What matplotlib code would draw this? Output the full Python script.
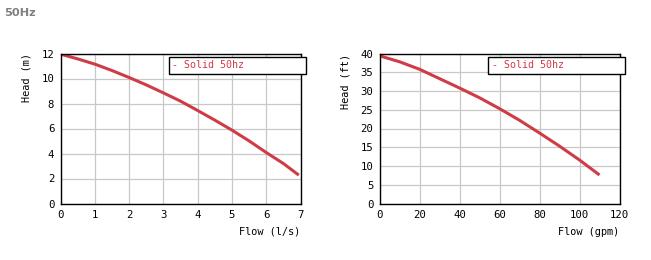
import matplotlib
matplotlib.use("Agg")
import matplotlib.pyplot as plt
from matplotlib.patches import Rectangle

title = "50Hz"
series_name = "Solid 50hz"

flow_ls = [0, 0.5, 1, 1.5, 2, 2.5, 3, 3.5, 4, 4.5, 5, 5.5, 6, 6.5, 6.95]
head_m = [11.95, 11.57, 11.15, 10.64, 10.08, 9.49, 8.85, 8.19, 7.44,
          6.67, 5.87, 5.01, 4.08, 3.20, 2.27]

flow_gpm = [0, 10, 20, 30, 40, 50, 60, 70, 80, 90, 100, 110]
head_ft = [39.4, 37.8, 35.8, 33.3, 30.8, 28.2, 25.3, 22.2, 18.8, 15.3, 11.6, 7.6]

line_color = "#cf3c47"
mono = "DejaVu Sans Mono"
fs = 7.4

fig = plt.figure(figsize=(6.51, 2.60), dpi=100)
W, H = 651, 260

def make_axes(x0, x1, y0, y1):
    return fig.add_axes([x0 / W, 1 - y1 / H, (x1 - x0) / W, (y1 - y0) / H])

def style(ax, xlim, ylim, xticks, yticks, xlabel, ylabel):
    ax.set_xlim(*xlim)
    ax.set_ylim(*ylim)
    ax.set_xticks(xticks)
    ax.set_yticks(yticks)
    ax.grid(True, color="#c8c8c8", linewidth=0.9)
    ax.set_axisbelow(True)
    ax.tick_params(length=0, labelsize=fs + 0.3, pad=4.5)
    for lbl in ax.get_xticklabels() + ax.get_yticklabels():
        lbl.set_family(mono)
    for s in ax.spines.values():
        s.set_linewidth(1.0)
        s.set_color("black")
    ax.set_xlabel(xlabel, family=mono, fontsize=fs, loc="right", labelpad=5)
    ax.set_ylabel(ylabel, family=mono, fontsize=fs, loc="top", labelpad=7)

def legend_box(x0, x1, y0, y1):
    r = Rectangle((x0 / W, 1 - y1 / H), (x1 - x0) / W, (y1 - y0) / H,
                  transform=fig.transFigure, facecolor="white",
                  edgecolor="black", linewidth=1.0, zorder=10)
    fig.add_artist(r)
    fig.text((x0 + 4) / W, 1 - ((y0 + y1) / 2) / H, "- " + series_name,
             family=mono, fontsize=fs - 0.2, color=line_color, va="center",
             ha="left", zorder=11)

ax1 = make_axes(60.5, 300.5, 53.5, 203.5)
ax1.plot(flow_ls, head_m, color=line_color, linewidth=2.2, solid_capstyle="butt")
style(ax1, (0, 7), (0, 12), range(0, 8), range(0, 13, 2), "Flow (l/s)", "Head (m)")

ax2 = make_axes(379.5, 619.5, 53.5, 203.5)
ax2.plot(flow_gpm, head_ft, color=line_color, linewidth=2.2, solid_capstyle="butt")
style(ax2, (0, 120), (0, 40), range(0, 121, 20), range(0, 41, 5), "Flow (gpm)", "Head (ft)")

legend_box(168.5, 306, 56.5, 73.5)
legend_box(487.5, 625, 56.5, 73.5)

fig.text(4 / W, 1 - 13 / H, title, fontsize=8.2, fontweight="bold",
         color="#808080", va="center", ha="left")

fig.savefig("out.png", dpi=100)
